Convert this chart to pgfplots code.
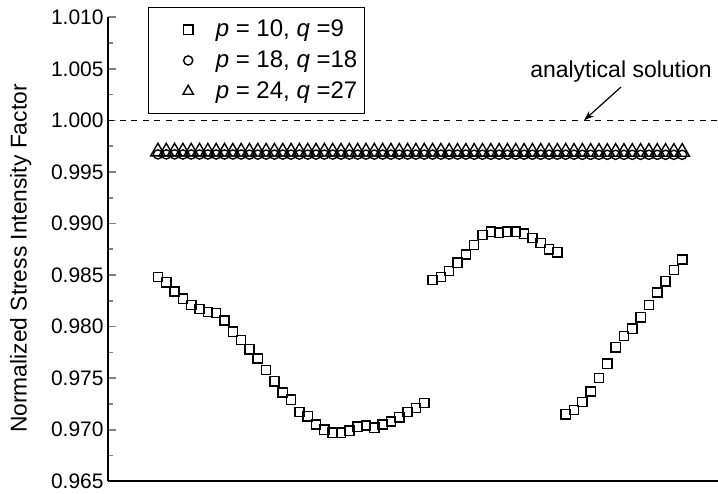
\documentclass[border=0pt]{standalone}
\usepackage{fontspec}
\setmainfont{Liberation Sans}
\usepackage{pgfplots}
\pgfplotsset{compat=1.18}
\usetikzlibrary{arrows.meta}

% normalized SIF along the crack front, p = 10, q = 9
\pgfplotstableread{
x     y
1.2   0.9848
1.4   0.9843
1.6   0.9834
1.8   0.9827
2.0   0.9821
2.2   0.9817
2.4   0.9814
2.6   0.9813
2.8   0.9806
3.0   0.9795
3.2   0.9787
3.4   0.9778
3.6   0.9769
3.8   0.9758
4.0   0.9747
4.2   0.9736
4.4   0.9729
4.6   0.9717
4.8   0.9713
5.0   0.9705
5.2   0.9700
5.4   0.9697
5.6   0.9697
5.8   0.9699
6.0   0.9703
6.2   0.9704
6.4   0.9702
6.6   0.9705
6.8   0.9708
7.0   0.9712
7.2   0.9717
7.4   0.9721
7.6   0.9726
7.8   0.9845
8.0   0.9848
8.2   0.9854
8.4   0.9862
8.6   0.9870
8.8   0.9879
9.0   0.9889
9.2   0.9892
9.4   0.9891
9.6   0.9892
9.8   0.9892
10.0  0.9890
10.2  0.9886
10.4  0.9881
10.6  0.9875
10.8  0.9872
11.0  0.9715
11.2  0.9719
11.4  0.9727
11.6  0.9737
11.8  0.9750
12.0  0.9764
12.2  0.9780
12.4  0.9791
12.6  0.9798
12.8  0.9809
13.0  0.9821
13.2  0.9833
13.4  0.9844
13.6  0.9855
13.8  0.9865
}\pqA

% p = 18, q = 18
\pgfplotstableread{
x     y
1.2   0.99670
1.4   0.99670
1.6   0.99670
1.8   0.99669
2.0   0.99669
2.2   0.99669
2.4   0.99669
2.6   0.99669
2.8   0.99669
3.0   0.99669
3.2   0.99669
3.4   0.99668
3.6   0.99668
3.8   0.99668
4.0   0.99668
4.2   0.99668
4.4   0.99668
4.6   0.99668
4.8   0.99668
5.0   0.99668
5.2   0.99668
5.4   0.99668
5.6   0.99668
5.8   0.99668
6.0   0.99668
6.2   0.99668
6.4   0.99668
6.6   0.99668
6.8   0.99668
7.0   0.99668
7.2   0.99668
7.4   0.99668
7.6   0.99668
7.8   0.99668
8.0   0.99668
8.2   0.99668
8.4   0.99668
8.6   0.99668
8.8   0.99667
9.0   0.99667
9.2   0.99667
9.4   0.99667
9.6   0.99667
9.8   0.99667
10.0  0.99667
10.2  0.99667
10.4  0.99667
10.6  0.99667
10.8  0.99667
11.0  0.99667
11.2  0.99667
11.4  0.99666
11.6  0.99666
11.8  0.99666
12.0  0.99666
12.2  0.99666
12.4  0.99666
12.6  0.99666
12.8  0.99666
13.0  0.99666
13.2  0.99666
13.4  0.99666
13.6  0.99666
13.8  0.99666
}\pqB

% p = 24, q = 27
\pgfplotstableread{
x     y
1.2   0.99696
1.4   0.99696
1.6   0.99696
1.8   0.99696
2.0   0.99696
2.2   0.99696
2.4   0.99695
2.6   0.99695
2.8   0.99695
3.0   0.99695
3.2   0.99695
3.4   0.99695
3.6   0.99695
3.8   0.99695
4.0   0.99695
4.2   0.99695
4.4   0.99695
4.6   0.99695
4.8   0.99695
5.0   0.99695
5.2   0.99695
5.4   0.99695
5.6   0.99695
5.8   0.99695
6.0   0.99695
6.2   0.99695
6.4   0.99695
6.6   0.99695
6.8   0.99695
7.0   0.99695
7.2   0.99695
7.4   0.99695
7.6   0.99695
7.8   0.99695
8.0   0.99695
8.2   0.99694
8.4   0.99694
8.6   0.99694
8.8   0.99694
9.0   0.99694
9.2   0.99694
9.4   0.99694
9.6   0.99694
9.8   0.99694
10.0  0.99694
10.2  0.99694
10.4  0.99694
10.6  0.99694
10.8  0.99694
11.0  0.99694
11.2  0.99694
11.4  0.99694
11.6  0.99693
11.8  0.99693
12.0  0.99693
12.2  0.99693
12.4  0.99693
12.6  0.99693
12.8  0.99693
13.0  0.99693
13.2  0.99693
13.4  0.99693
13.6  0.99693
13.8  0.99693
}\pqC

\begin{document}
\begin{tikzpicture}
\useasboundingbox (-54pt,-6pt) rectangle (305pt,240.5pt);
\begin{axis}[
  scale only axis,
  width=305pt, height=232pt,
  at={(0pt,0pt)}, anchor=south west,
  xmin=0, xmax=14.66,
  ymin=0.965, ymax=1.010,
  axis x line*=bottom, axis y line*=left,
  axis line style={line width=0.9pt},
  xtick=\empty,
  ytick={0.965,0.970,0.975,0.980,0.985,0.990,0.995,1.000,1.005,1.010},
  minor y tick num=1,
  tick align=inside,
  major tick length=4pt, minor tick length=2.5pt,
  y tick style={line width=0.8pt},
  scaled y ticks=false,
  /pgf/number format/assume math mode=true,
  y tick label style={/pgf/number format/.cd, fixed, fixed zerofill, precision=3, /tikz/.cd,
    font=\fontsize{10.5}{12}\selectfont, inner xsep=2pt},
  ylabel={Normalized Stress Intensity Factor},
  ylabel style={at={(axis description cs:-0.143,0.48)}, anchor=center,
    font=\fontsize{11.4}{13}\selectfont},
  legend style={at={(axis description cs:0.0656,1.0216)}, anchor=north west,
    draw=black, line width=0.6pt, font=\fontsize{12}{14}\selectfont,
    row sep=1.5pt, inner xsep=1.5pt, inner ysep=4pt},
  legend image code/.code={%
    \draw[#1] plot coordinates {(0pt,0pt)};
    \path (-18pt,0pt) (11.5pt,0pt);
  },
  legend cell align=left,
  clip=false,
]
\addplot[only marks, mark=square, mark size=2.3pt, mark options={line width=0.7pt}]
  table[x=x, y=y] {\pqA};
\addlegendentry{\textit{p} = 10, \textit{q} =9}
\addplot[only marks, mark=o, mark size=2.3pt, mark options={line width=0.7pt}]
  table[x=x, y=y] {\pqB};
\addlegendentry{\textit{p} = 18, \textit{q} =18}
\addplot[only marks, mark=triangle, mark size=4.2pt, mark options={line width=0.7pt},
  legend image post style={mark size=3pt}]
  table[x=x, y=y] {\pqC};
\addlegendentry{\textit{p} = 24, \textit{q} =27}

% short unlabelled ticks along the bottom axis
\pgfplotsinvokeforeach{1,2,...,14}{
  \draw[line width=0.5pt] (axis cs:#1,0.965) ++(0,-0.75pt) -- ++(0,1.5pt);
}

% analytical solution
\addplot[line width=0.6pt, dash pattern=on 3pt off 2.8pt, forget plot]
  coordinates {(0,1.000) (14.66,1.000)};
\node[font=\fontsize{11.5}{13}\selectfont] at (axis cs:12.33,1.0047) {analytical solution};
\draw[-{Stealth[length=5pt,width=3.5pt]}, line width=0.6pt]
  (axis cs:12.33,1.00324) -- (axis cs:11.44,1.0000);
\end{axis}
\end{tikzpicture}
\end{document}
